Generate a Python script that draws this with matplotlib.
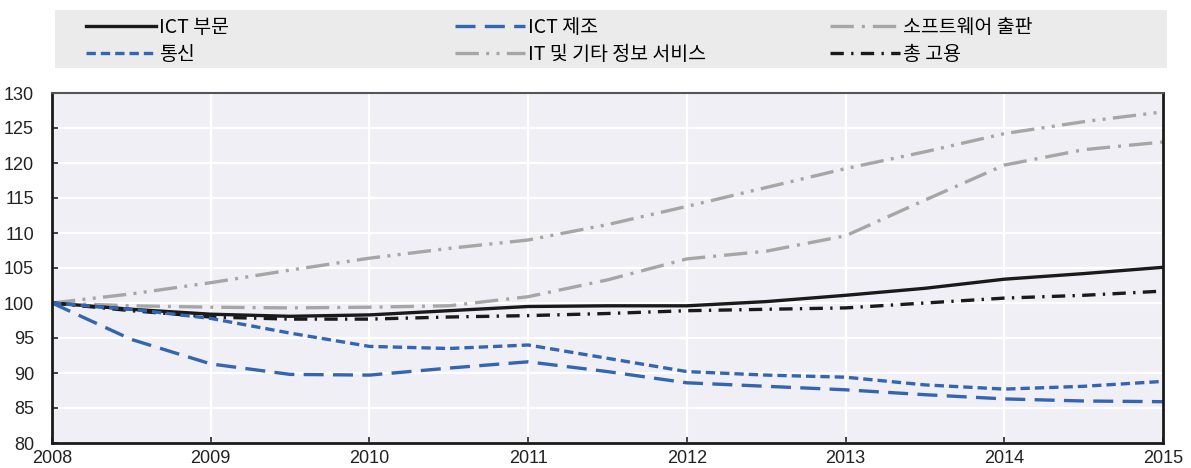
import numpy as np
import matplotlib
matplotlib.use("Agg")
import matplotlib.pyplot as plt
from matplotlib.patches import Rectangle

plt.rcParams['font.family'] = ['Noto Sans CJK KR', 'DejaVu Sans']

# half-year points, 2008 .. 2015
years = [2008.0, 2008.5, 2009.0, 2009.5, 2010.0, 2010.5, 2011.0, 2011.5,
         2012.0, 2012.5, 2013.0, 2013.5, 2014.0, 2014.5, 2015.0]

ict_sector = [100, 99.1, 98.4, 98.1, 98.3, 98.9, 99.5, 99.6,
              99.6, 100.2, 101.1, 102.1, 103.4, 104.2, 105.1]
ict_manuf = [100, 94.8, 91.3, 89.8, 89.7, 90.7, 91.6, 90.2,
             88.6, 88.1, 87.6, 86.9, 86.3, 86.0, 85.9]
software = [100, 99.6, 99.4, 99.3, 99.4, 99.6, 100.9, 103.3,
            106.3, 107.4, 109.6, 114.7, 119.7, 121.9, 123.0]
telecom = [100, 99.1, 97.8, 95.7, 93.8, 93.5, 94.0, 92.1,
           90.2, 89.7, 89.4, 88.3, 87.7, 88.1, 88.8]
it_services = [100, 101.3, 102.9, 104.7, 106.4, 107.8, 109.0, 111.2,
               113.8, 116.5, 119.2, 121.6, 124.2, 125.9, 127.3]
total_emp = [100, 98.9, 98.0, 97.7, 97.7, 98.0, 98.2, 98.5,
             98.9, 99.1, 99.3, 100.0, 100.7, 101.1, 101.7]

labels = ['ICT 부문', '통신', 'ICT 제조', 'IT 및 기타 정보 서비스', '소프트웨어 출판', '총 고용']

blue = '#3465B0'
grey = '#A6A6A6'
black = '#1A1A1A'
lw = 2.4

fig = plt.figure(figsize=(11.91, 4.68), dpi=100)
ax = fig.add_axes([52/1191, 1-443/468, (1163-52)/1191, (443-93)/468])
ax.set_facecolor('#EFEFF5')

# greys at the back, black and blue on top
l_it, = ax.plot(years, it_services, color=grey, lw=lw, dashes=(7, 2.2, 0.9, 2.2, 0.9, 2.2))
l_sw, = ax.plot(years, software, color=grey, lw=lw, dashes=(7, 2.4, 0.9, 2.4))
l_tot, = ax.plot(years, total_emp, color=black, lw=lw, dashes=(4, 2.2, 0.7, 2.2))
l_ict, = ax.plot(years, ict_sector, color=black, lw=lw)
l_man, = ax.plot(years, ict_manuf, color=blue, lw=lw, dashes=(6, 2.8))
l_tel, = ax.plot(years, telecom, color=blue, lw=lw, dashes=(2.8, 1.5))

ax.set_xlim(2008, 2015)
ax.set_ylim(80, 130)
ax.set_xticks(range(2008, 2016))
ax.set_yticks(range(80, 131, 5))
ax.grid(True, color='white', lw=1.6)
ax.set_axisbelow(True)
ax.tick_params(direction='in', length=4, width=1.2, colors='#222222',
               labelsize=13, labelfontfamily='Liberation Sans')
ax.tick_params(axis='y', pad=13)
ax.tick_params(axis='x', pad=5)

for s in ['left', 'bottom', 'right']:
    ax.spines[s].set_color(black)
    ax.spines[s].set_linewidth(2)
ax.spines['top'].set_color('#555555')
ax.spines['top'].set_linewidth(1.5)

# legend box
fig.patches.append(Rectangle((55/1191, 1-68/468), (1167-55)/1191, 58/468,
                             transform=fig.transFigure, facecolor='#EBEBEB',
                             edgecolor='none', zorder=0))

cols = [([l_ict, l_tel], labels[0:2], 86),
        ([l_man, l_it], labels[2:4], 455),
        ([l_sw, l_tot], labels[4:6], 830)]
for hs, ls, x0 in cols:
    fig.legend(hs, ls, loc='upper left', bbox_to_anchor=(x0/1191, 1-17/468),
               frameon=False, fontsize=14, handlelength=3.6, handletextpad=0.15,
               labelspacing=0.3, borderpad=0, borderaxespad=0)

fig.savefig('out.png', dpi=100)
